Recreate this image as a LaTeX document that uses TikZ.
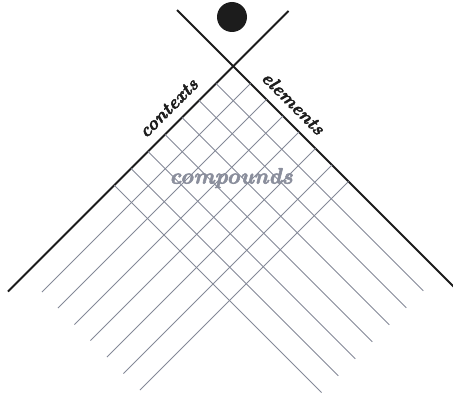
\documentclass[tikz,border=0pt]{standalone}
\usepackage{fontspec}
\usepackage{tikz}
\newfontfamily\labelfont[FakeBold=2.4]{lmroman10-bolditalic.otf}
\definecolor{gridgray}{RGB}{132,137,152}
\definecolor{textgray}{RGB}{138,142,156}
\definecolor{inkblack}{RGB}{28,28,28}

\begin{document}
\begin{tikzpicture}[
    x=1pt, y=-1pt,
    arm/.style={draw=inkblack, line width=1.8pt},
    gridline/.style={draw=gridgray, line width=0.8pt},
    armlabel/.style={text=inkblack, inner sep=0pt, font=\labelfont\fontsize{18.5}{18.5}\selectfont},
    midlabel/.style={text=textgray, inner sep=0pt, font=\labelfont\fontsize{22.5}{22.5}\selectfont}
]
\useasboundingbox (0,0) rectangle (453,396);

% the two arms
\coordinate (apex) at (233.25,66.25);
\coordinate (tl) at (177,10);
\coordinate (br) at (455,288);
\coordinate (tr) at (288.5,11);
\coordinate (bl) at (8,291.5);
\draw[arm] (tl)--(apex)--(br);
\draw[arm] (tr)--(apex)--(bl);

% dot above the apex
\node[circle, fill=inkblack, minimum size=30pt, inner sep=0pt] (dot) at (232,17) {};

% lines running down to the left
\draw[gridline] (250.5,83.5)--(42,292);
\draw[gridline] (266.5,99.5)--(58,308);
\draw[gridline] (283,116)--(74.5,324.5);
\draw[gridline] (299,132)--(90.5,340.5);
\draw[gridline] (315.5,148.5)--(107,357);
\draw[gridline] (332,165)--(123.5,373.5);
\draw[gridline] (348.5,181.5)--(140,390);

% lines running down to the right
\draw[gridline] (216,83.5)--(423.25,290.75);
\draw[gridline] (199,100.5)--(406.25,307.75);
\draw[gridline] (182,117.5)--(389.25,324.75);
\draw[gridline] (165,134.5)--(372.25,341.75);
\draw[gridline] (148,151.5)--(355.25,358.75);
\draw[gridline] (131,168.5)--(338.25,375.75);
\draw[gridline] (114.25,185.25)--(321.5,392.5);

% labels
\node[armlabel, rotate=45] (contexts) at (168.5,108) {contexts};
\node[armlabel, rotate=-45] (elements) at (293.5,103) {elements};
\node[midlabel] (compounds) at (231,178) {compounds};

\end{tikzpicture}
\end{document}
